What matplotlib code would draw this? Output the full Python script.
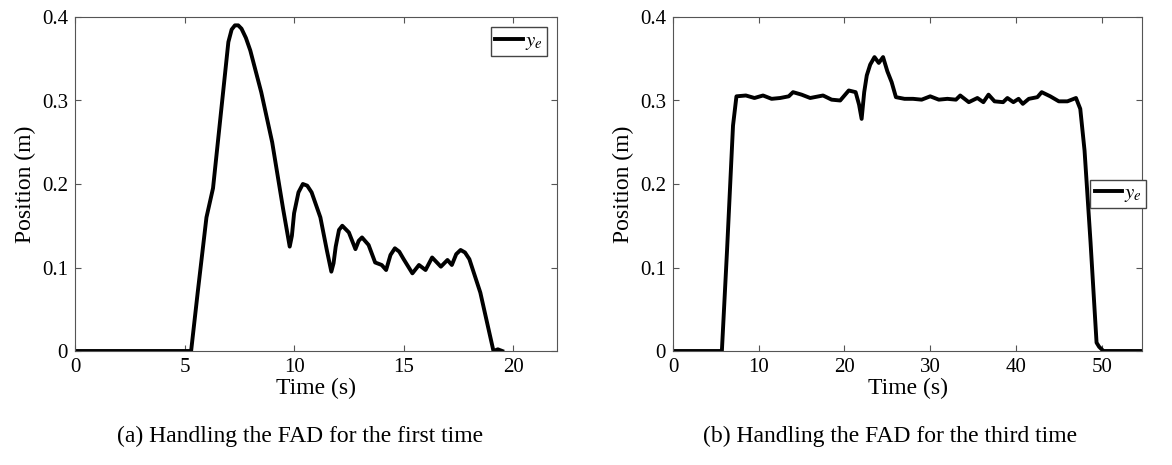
import matplotlib
matplotlib.use("Agg")
import matplotlib.pyplot as plt

plt.rcParams['font.family'] = ['Liberation Serif', 'DejaVu Serif']
plt.rcParams['mathtext.fontset'] = 'stix'

t1 = [0, 5.3, 5.6, 6.0, 6.3, 6.6, 7.0, 7.15, 7.3, 7.45, 7.6, 7.8, 8.0, 8.5, 9.0, 9.5, 9.8, 9.9, 10.0, 10.2, 10.4, 10.6, 10.8, 11.2, 11.5, 11.7, 11.8, 11.9, 12.05, 12.2, 12.5, 12.8, 12.95, 13.1, 13.4, 13.7, 14.0, 14.2, 14.4, 14.6, 14.8, 15.0, 15.4, 15.7, 16.0, 16.3, 16.7, 17.0, 17.2, 17.4, 17.6, 17.8, 18.0, 18.5, 19.1, 19.3, 19.5]
y1 = [0, 0, 0.07, 0.16, 0.195, 0.27, 0.37, 0.385, 0.39, 0.39, 0.386, 0.375, 0.36, 0.31, 0.25, 0.17, 0.125, 0.138, 0.165, 0.19, 0.2, 0.198, 0.19, 0.16, 0.12, 0.095, 0.105, 0.125, 0.145, 0.15, 0.142, 0.122, 0.132, 0.136, 0.127, 0.106, 0.103, 0.097, 0.115, 0.123, 0.119, 0.11, 0.093, 0.103, 0.097, 0.112, 0.101, 0.109, 0.103, 0.116, 0.121, 0.118, 0.11, 0.07, 0.0, 0.002, 0.0]

t2 = [0, 5.7, 6.3, 7.0, 7.4, 8.5, 9.5, 10.5, 11.5, 12.5, 13.5, 14.0, 15.0, 16.0, 17.0, 17.5, 18.5, 19.5, 20.5, 21.3, 21.7, 22.0, 22.3, 22.6, 23.0, 23.5, 24.0, 24.5, 25.0, 25.5, 26.0, 27.0, 28.0, 29.0, 30.0, 31.0, 32.0, 33.0, 33.5, 34.5, 35.5, 36.2, 36.8, 37.5, 38.5, 39.0, 39.7, 40.3, 40.8, 41.5, 42.5, 43.0, 44.0, 45.0, 46.0, 47.0, 47.5, 48.0, 48.7, 49.4, 49.7, 50.2, 55]
y2 = [0, 0, 0.12, 0.27, 0.305, 0.306, 0.303, 0.306, 0.302, 0.303, 0.305, 0.31, 0.307, 0.303, 0.305, 0.306, 0.301, 0.3, 0.312, 0.31, 0.295, 0.278, 0.31, 0.33, 0.343, 0.352, 0.345, 0.352, 0.335, 0.322, 0.304, 0.302, 0.302, 0.301, 0.305, 0.301, 0.302, 0.301, 0.306, 0.298, 0.303, 0.298, 0.307, 0.299, 0.298, 0.303, 0.298, 0.302, 0.296, 0.302, 0.304, 0.31, 0.305, 0.299, 0.299, 0.303, 0.29, 0.24, 0.13, 0.01, 0.005, 0.0, 0.0]

fig = plt.figure(figsize=(11.72, 4.65), dpi=100)
W, H = 1172, 465
ax1 = fig.add_axes([75/W, 1-351/H, (557-75)/W, (351-17)/H])
ax2 = fig.add_axes([673/W, 1-351/H, (1142-673)/W, (351-17)/H])

for ax, t, y, xl, xt in [(ax1, t1, y1, 22, [0, 5, 10, 15, 20]), (ax2, t2, y2, 54.7, [0, 10, 20, 30, 40, 50])]:
    ax.plot(t, y, color='black', lw=2.8, label='$y_e$', solid_joinstyle='round')
    ax.set_xlim(0, xl)
    ax.set_ylim(0, 0.4)
    ax.set_xticks(xt)
    ax.set_yticks([0, 0.1, 0.2, 0.3, 0.4])
    ax.set_yticklabels(['0', '0.1', '0.2', '0.3', '0.4'])
    ax.tick_params(direction='in', top=True, right=True, labelsize=15, length=4, color='#555555', pad=5)
    for s in ax.spines.values():
        s.set_color('#555555'); s.set_linewidth(0.8)
    ax.set_xlabel('Time (s)', fontsize=17, labelpad=1)
    ax.set_ylabel('Position (m)', fontsize=17)

ax1.legend(loc='upper right', fontsize=15, handlelength=1.3, handletextpad=0.1, borderpad=0.2, fancybox=False, edgecolor='#444444', framealpha=1)
ax2.legend(loc='center right', bbox_to_anchor=(1.03, 0.47), fontsize=15, handlelength=1.3, handletextpad=0.1, borderpad=0.2, fancybox=False, edgecolor='#444444', framealpha=1)

fig.text(300/W, 1-436/H, '(a) Handling the FAD for the first time', ha='center', va='center', fontsize=17)
fig.text(890/W, 1-436/H, '(b) Handling the FAD for the third time', ha='center', va='center', fontsize=17)
fig.savefig('out.png', dpi=100)
